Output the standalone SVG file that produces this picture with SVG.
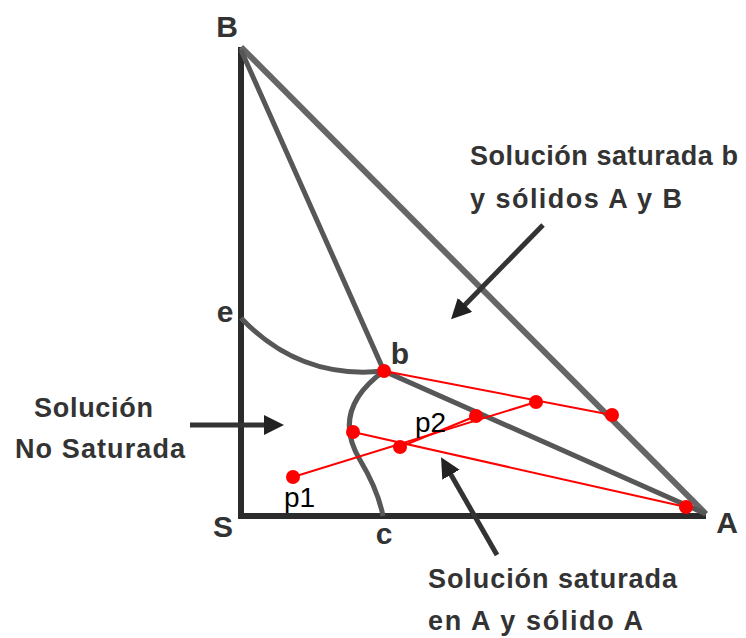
<svg xmlns="http://www.w3.org/2000/svg" width="746" height="638" viewBox="0 0 746 638">
<style>
.lbl{font-family:"Liberation Sans",Arial,sans-serif;font-weight:bold;font-size:27px;fill:#333}
.v{font-family:"Liberation Sans",Arial,sans-serif;font-weight:bold;font-size:30px;fill:#333}
.pl{font-family:"Liberation Sans",Arial,sans-serif;font-size:28px;fill:#000}
.ax{stroke:#2b2b2b;stroke-width:6;fill:none}
.hyp{stroke:#666;stroke-width:6;fill:none}
.cur{stroke:#575757;stroke-width:5;fill:none}
.arr{stroke:#333;stroke-width:5;fill:none}
.red{stroke:#f00;stroke-width:2;fill:none}
.dot{fill:#f00}
</style>
<defs>
<marker id="ah" viewBox="0 0 10 10" refX="5" refY="5" markerWidth="4" markerHeight="4" orient="auto" markerUnits="strokeWidth">
<path d="M0,0 L10,5 L0,10 z" fill="#222"/>
</marker>
</defs>
<g id="connectors">
<path class="ax" d="M241,47 L241,516 L706,516"/>
<path class="hyp" d="M241,47 L706,514"/>
<path class="cur" d="M241,50 L384,371 L706,514"/>
<path id="curve-e" class="cur" d="M241,318 Q300,380 384,371"/>
<path id="curve-c" class="cur" d="M384,371 Q330,410 360,460 Q378,490 383,516"/>
<path class="arr" d="M190,425 L274,425" marker-end="url(#ah)"/>
<path class="arr" d="M543,225 L458,312" marker-end="url(#ah)"/>
<path class="arr" d="M497,555 L446,466" marker-end="url(#ah)"/>
<path class="red" d="M384,371 L612,415"/>
<path class="red" d="M293,477 L536,402"/>
<path class="red" d="M400,447 L476,416"/>
<path class="red" d="M353,432 L686,507"/>
</g>
<g id="points">
<circle class="dot" cx="384" cy="371" r="7"/>
<circle class="dot" cx="536" cy="402" r="7"/>
<circle class="dot" cx="612" cy="415" r="7"/>
<circle class="dot" cx="476" cy="416" r="7"/>
<circle class="dot" cx="353" cy="432" r="7"/>
<circle class="dot" cx="400" cy="447" r="7"/>
<circle class="dot" cx="293" cy="477" r="7"/>
<circle class="dot" cx="686" cy="507" r="7"/>
</g>
<g id="labels">
<text class="v" x="227" y="37" text-anchor="middle">B</text>
<text class="v" x="223" y="537" text-anchor="middle">S</text>
<text class="v" x="727" y="533" text-anchor="middle">A</text>
<text class="v" x="225" y="322" text-anchor="middle">e</text>
<text class="v" x="400" y="364" text-anchor="middle">b</text>
<text class="v" x="384" y="544" text-anchor="middle">c</text>
<text class="pl" x="284" y="507">p1</text>
<text class="pl" x="415" y="432">p2</text>
</g>
<g id="note-top">
<text class="lbl" x="470" y="165" textLength="268" lengthAdjust="spacing">Solución saturada b</text>
<text class="lbl" x="470" y="208" textLength="212" lengthAdjust="spacing">y sólidos A y B</text>
</g>
<g id="note-left">
<text class="lbl" x="34" y="417" textLength="119" lengthAdjust="spacing">Solución</text>
<text class="lbl" x="15" y="458" textLength="170" lengthAdjust="spacing">No Saturada</text>
</g>
<g id="note-bottom">
<text class="lbl" x="428" y="588" textLength="249" lengthAdjust="spacing">Solución saturada</text>
<text class="lbl" x="428" y="630" textLength="215" lengthAdjust="spacing">en A y sólido A</text>
</g>
</svg>
